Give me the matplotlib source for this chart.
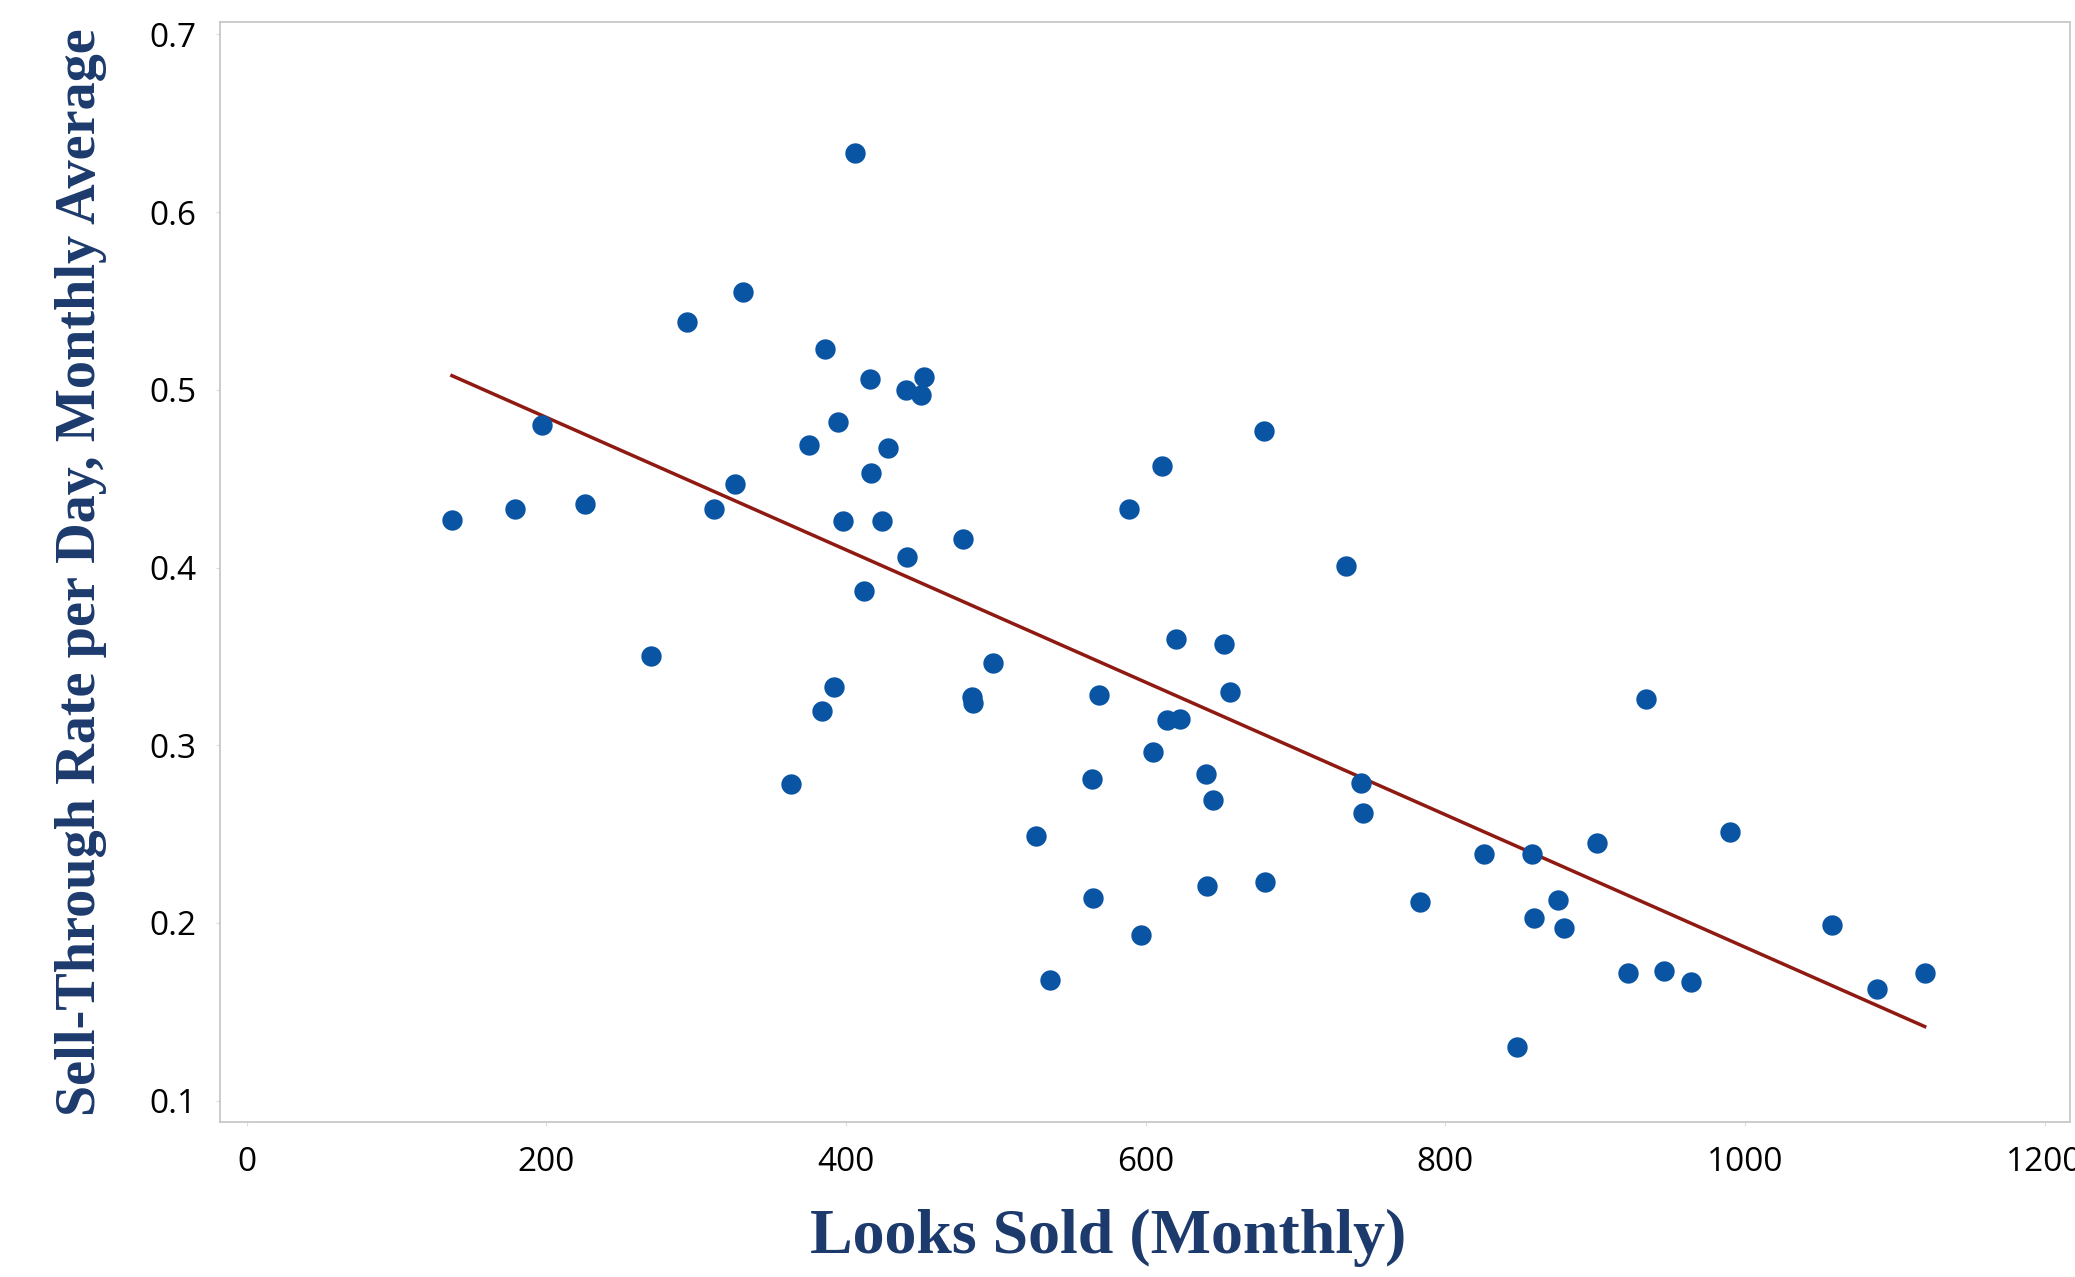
import matplotlib.pyplot as plt
import numpy as np

# looks sold per month vs sell-through rate
looks_sold = [137, 179, 197, 226, 270, 294, 312, 326, 331, 363, 375, 386, 384, 392,
              395, 398, 406, 412, 416, 417, 424, 428, 440, 441, 450, 452, 478, 484,
              485, 498, 527, 536, 564, 565, 569, 589, 597, 605, 611, 614, 623, 620,
              640, 641, 645, 652, 656, 679, 680, 734, 744, 745, 783, 826, 848, 858,
              859, 875, 879, 901, 922, 934, 946, 964, 990, 1058, 1088, 1120]
sell_rate = [0.427, 0.433, 0.480, 0.436, 0.350, 0.538, 0.433, 0.447, 0.555, 0.278,
             0.469, 0.523, 0.319, 0.333, 0.482, 0.426, 0.633, 0.387, 0.506, 0.453,
             0.426, 0.467, 0.500, 0.406, 0.497, 0.507, 0.416, 0.327, 0.324, 0.346,
             0.249, 0.168, 0.281, 0.214, 0.328, 0.433, 0.193, 0.296, 0.457, 0.314,
             0.315, 0.360, 0.284, 0.221, 0.269, 0.357, 0.330, 0.477, 0.223, 0.401,
             0.279, 0.262, 0.212, 0.239, 0.130, 0.239, 0.203, 0.213, 0.197, 0.245,
             0.172, 0.326, 0.173, 0.167, 0.251, 0.199, 0.163, 0.172]

# trend line
fit_slope = -0.0003726
fit_intercept = 0.559

x_ticks = [0, 200, 400, 600, 800, 1000, 1200]
y_ticks = [0.1, 0.2, 0.3, 0.4, 0.5, 0.6, 0.7]

navy = '#1d3a6d'

fig = plt.figure(figsize=(20.75, 12.77), dpi=100)
ax = fig.add_axes([0.1059, 0.1214, 0.8917, 0.861])

ax.scatter(looks_sold, sell_rate, s=215, color='#0a54a4', zorder=3, linewidths=0)
xs = np.array([min(looks_sold), max(looks_sold)])
ax.plot(xs, fit_intercept + fit_slope * xs, color='#8e1a12', lw=2.5, zorder=2)

ax.set_xlim(-18, 1217)
ax.set_ylim(0.088, 0.7067)
ax.set_xticks(x_ticks)
ax.set_xticklabels([str(v) for v in x_ticks])
ax.set_yticks(y_ticks)
ax.set_yticklabels([f"{v:.1f}" for v in y_ticks])
ax.tick_params(length=3, color='#dddddd', labelsize=24, pad=14)
for lab in ax.get_xticklabels() + ax.get_yticklabels():
    lab.set_family('Open Sans')

for sp in ax.spines.values():
    sp.set_color('#c8c8c8')
    sp.set_linewidth(1.3)

ax.set_xlabel('Looks Sold (Monthly)', family='Liberation Serif', fontsize=46,
              color=navy, fontweight='bold', labelpad=22)
ax.xaxis.label.set_x(0.48)
ax.set_ylabel('Sell-Through Rate per Day, Monthly Average', family='Liberation Serif',
              fontsize=40.5, color=navy, fontweight='bold', labelpad=30)

fig.savefig('out.png', dpi=100)
